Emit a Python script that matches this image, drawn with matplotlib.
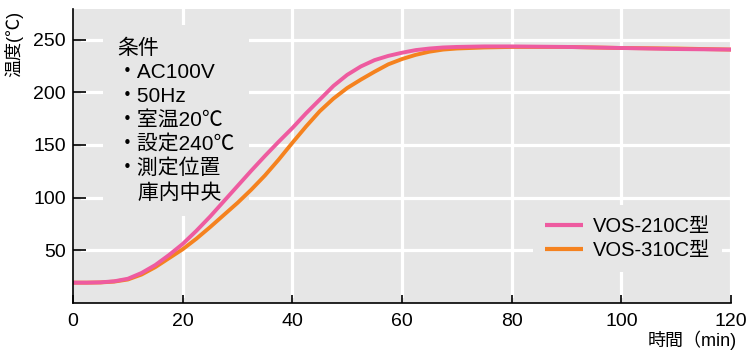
import matplotlib
matplotlib.use("Agg")
import matplotlib.pyplot as plt

plt.rcParams['font.family'] = ['Liberation Sans', 'Noto Sans CJK JP']

# time in minutes
t = [0, 2.5, 5, 7.5, 10, 12.5, 15, 17.5, 20, 22.5, 25, 27.5, 30, 32.5, 35, 37.5, 40,
     42.5, 45, 47.5, 50, 52.5, 55, 57.5, 60, 62.5, 65, 67.5, 70, 75, 80, 90, 100, 110, 120]
# VOS-210C
temp_210 = [19.3, 19.3, 19.6, 20.6, 23, 28.5, 36, 45.5, 56, 68.5, 82, 96.5, 111, 125.5, 139.5, 153, 166,
            180, 193, 206, 216.5, 224.5, 230.5, 234.5, 237.5, 240, 241.5, 242.5, 243, 243.5, 243.5, 243, 242, 241, 240.5]
# VOS-310C
temp_310 = [19.3, 19.3, 19.5, 20.3, 22.3, 27, 34, 42.5, 51, 61, 72, 83.5, 95, 107.5, 121, 136, 152,
            167.5, 182, 194, 204, 212, 219.5, 226.5, 231.5, 235.5, 238.5, 240.5, 241.5, 242.5, 243, 243, 242, 241.5, 240.5]

labels = ['VOS-210C型', 'VOS-310C型']
colors = ['#EE5BA0', '#F5821F']
xticks = [0, 20, 40, 60, 80, 100, 120]
yticks = [50, 100, 150, 200, 250]
cond_text = "条件\n・AC100V\n・50Hz\n・室温20℃\n・設定240℃\n・測定位置\n　庫内中央"

bg = '#E6E6E6'

fig = plt.figure(figsize=(7.54, 3.55), dpi=100)
ax = fig.add_axes([73/754, 52/355, 658/754, 294/355])
ax.set_facecolor(bg)
ax.set_xlim(0, 120)
ax.set_ylim(0, 279)

# white grid, starting just past the tick marks
for v in yticks:
    ax.axhline(v, xmin=9/658, color='white', lw=2.3, zorder=1)
for v in xticks[1:]:
    ax.axvline(v, ymin=7/294, color='white', lw=2.3, zorder=1)

ax.plot(t, temp_310, color=colors[1], lw=2.8, label=labels[1], zorder=3,
        solid_capstyle='butt', solid_joinstyle='round')
ax.plot(t, temp_210, color=colors[0], lw=2.8, label=labels[0], zorder=4,
        solid_capstyle='butt', solid_joinstyle='round')

for s in ['top', 'right']:
    ax.spines[s].set_visible(False)
for s in ['left', 'bottom']:
    ax.spines[s].set_linewidth(1.2)
    ax.spines[s].set_zorder(5)

ax.set_xticks(xticks)
ax.set_yticks(yticks)
ax.tick_params(axis='y', direction='in', length=9, width=1.2, labelsize=14, pad=5)
ax.tick_params(axis='x', direction='in', length=6, width=1.2, labelsize=14, pad=7)

ax.set_ylabel('温度(℃)', fontsize=13)
ax.yaxis.set_label_coords(-0.075, 0.88)

fig.text(737/754, 15/355, '時間（min)', fontsize=13, ha='right', va='center')

ax.text((117 - 73) / 658, (303 - 39) / 294, cond_text, transform=ax.transAxes,
        fontsize=15, va='top', ha='left', linespacing=1.32, zorder=2,
        bbox=dict(boxstyle='square,pad=0.65', facecolor=bg, edgecolor='none'))

handles, lbls = ax.get_legend_handles_labels()
leg = ax.legend(handles[::-1], lbls[::-1], loc='upper left',
                bbox_to_anchor=((533 - 73) / 658, (303 - 205) / 294),
                borderaxespad=0, fontsize=14.5, frameon=True, fancybox=False,
                handlelength=1.9, handletextpad=0.45, labelspacing=0.25, borderpad=0.6)
leg.get_frame().set_facecolor(bg)
leg.get_frame().set_edgecolor('none')
leg.get_frame().set_alpha(1)
leg.set_zorder(2)
for line in leg.get_lines():
    line.set_linewidth(3)

fig.savefig('out.png', dpi=100)
